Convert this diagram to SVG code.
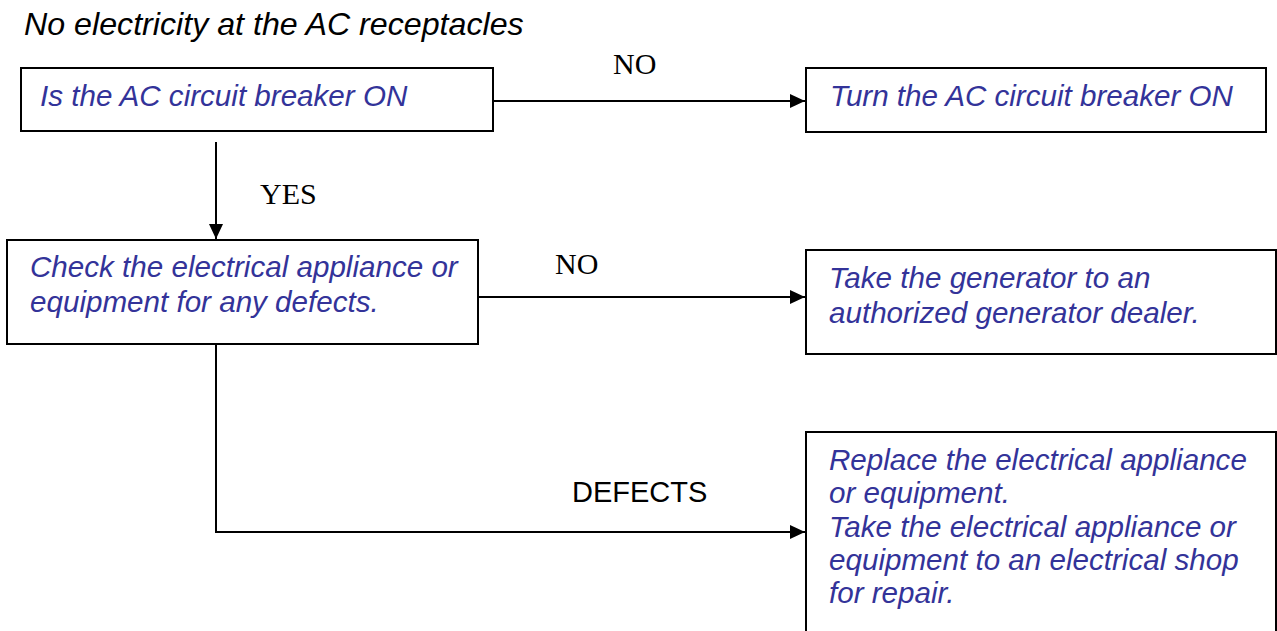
<svg xmlns="http://www.w3.org/2000/svg" width="1277" height="631" viewBox="0 0 1277 631">
<style>
.box{fill:#fff;stroke:#000;stroke-width:2}
.t{font-family:"Liberation Sans",Arial,sans-serif;font-style:italic;font-size:29.6px;fill:#333399}
.title{font-family:"Liberation Sans",Arial,sans-serif;font-style:italic;font-size:32.2px;fill:#000}
.lbl{font-family:"Liberation Serif","Times New Roman",serif;font-size:30px;fill:#000}
.lbl2{font-family:"Liberation Sans",Arial,sans-serif;font-size:29px;fill:#000}
.c{fill:none;stroke:#000;stroke-width:2}
</style>
<defs>
<marker id="ah" markerUnits="userSpaceOnUse" markerWidth="16" markerHeight="14" refX="15" refY="7" orient="auto">
<path d="M0,0 L15,7 L0,14 z" fill="#000"/>
</marker>
</defs>
<rect width="1277" height="631" fill="#fff"/>
<text class="title" x="24" y="35">No electricity at the AC receptacles</text>
<g id="n1">
<rect class="box" x="21" y="68" width="472" height="63"/>
<text class="t" x="40" y="106">Is the AC circuit breaker ON</text>
</g>
<g id="n2">
<rect class="box" x="806" y="68" width="460" height="64"/>
<text class="t" x="830" y="106">Turn the AC circuit breaker ON</text>
</g>
<g id="n3">
<rect class="box" x="7" y="240" width="471" height="104"/>
<text class="t" x="30" y="277">Check the electrical appliance or</text>
<text class="t" x="30" y="312">equipment for any defects.</text>
</g>
<g id="n4">
<rect class="box" x="806" y="250" width="470" height="104"/>
<text class="t" x="829" y="288">Take the generator to an</text>
<text class="t" x="829" y="323">authorized generator dealer.</text>
</g>
<g id="n5">
<rect class="box" x="806" y="432" width="470" height="210"/>
<text class="t" x="829" y="470">Replace the electrical appliance</text>
<text class="t" x="829" y="503">or equipment.</text>
<text class="t" x="829" y="537">Take the electrical appliance or</text>
<text class="t" x="829" y="570">equipment to an electrical shop</text>
<text class="t" x="829" y="603">for repair.</text>
</g>
<g id="connectors">
<path class="c" d="M493,101 H805" marker-end="url(#ah)"/>
<path class="c" d="M216,142 V239" marker-end="url(#ah)"/>
<path class="c" d="M478,297 H805" marker-end="url(#ah)"/>
<path class="c" d="M216,344 V532 H805" marker-end="url(#ah)"/>
<text class="lbl" x="613" y="74">NO</text>
<text class="lbl" x="260" y="204">YES</text>
<text class="lbl" x="555" y="274">NO</text>
<text class="lbl2" x="572" y="502">DEFECTS</text>
</g>
</svg>
